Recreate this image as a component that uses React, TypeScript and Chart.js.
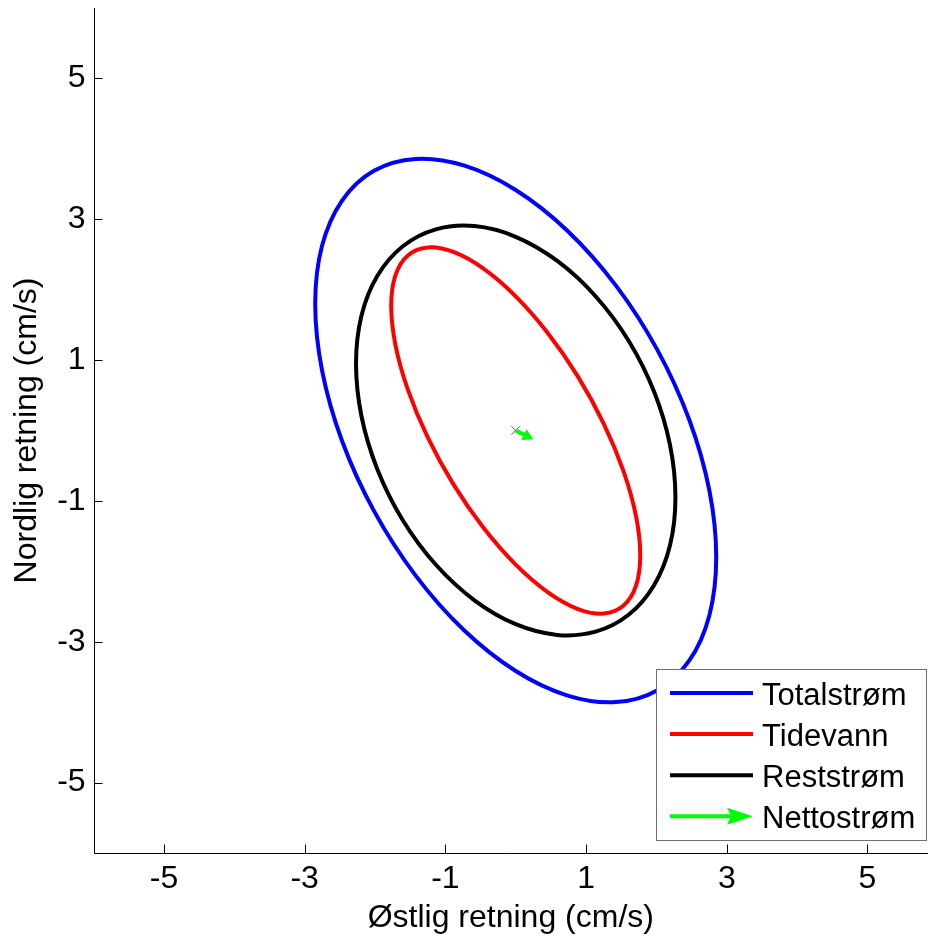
import { useEffect, useRef } from "react";
import { Chart, registerables } from "chart.js";

Chart.register(...registerables);

// ---- data ----
const X_TICKS = [-5, -3, -1, 1, 3, 5];
const Y_TICKS = [-5, -3, -1, 1, 3, 5];
const X_RANGE = [-6, 5.86];
const Y_RANGE = [-6, 6];
const X_TITLE = "Østlig retning (cm/s)";
const Y_TITLE = "Nordlig retning (cm/s)";
const LEGEND_LABELS = ["Totalstrøm", "Tidevann", "Reststrøm", "Nettostrøm"];

// Totalstrøm ellipse (x, y) points, read around the curve
const TOTAL: [number, number][] = [
  [2.85, -1.8], [2.753, -2.622], [2.468, -3.266], [2.015, -3.688], [1.425, -3.857], [0.738, -3.764],
  [0, -3.415], [-0.738, -2.833], [-1.425, -2.057], [-2.015, -1.142], [-2.468, -0.149], [-2.753, 0.855],
  [-2.85, 1.8], [-2.753, 2.622], [-2.468, 3.266], [-2.015, 3.688], [-1.425, 3.857], [-0.738, 3.764],
  [0, 3.415], [0.738, 2.833], [1.425, 2.057], [2.015, 1.142], [2.468, 0.149], [2.753, -0.855],
];

// Tidevann ellipse
const TIDE: [number, number][] = [
  [1.77, -1.77], [1.71, -2.203], [1.533, -2.485], [1.252, -2.599], [0.885, -2.535], [0.458, -2.298],
  [0, -1.905], [-0.458, -1.382], [-0.885, -0.765], [-1.252, -0.095], [-1.533, 0.58], [-1.71, 1.217],
  [-1.77, 1.77], [-1.71, 2.203], [-1.533, 2.485], [-1.252, 2.599], [-0.885, 2.535], [-0.458, 2.298],
  [0, 1.905], [0.458, 1.382], [0.885, 0.765], [1.252, 0.095], [1.533, -0.58], [1.71, -1.217],
];

// Reststrøm ellipse
const RESID: [number, number][] = [
  [2.27, -0.95], [2.193, -1.63], [1.966, -2.198], [1.605, -2.617], [1.135, -2.857], [0.587, -2.903],
  [0, -2.751], [-0.587, -2.411], [-1.135, -1.907], [-1.605, -1.274], [-1.966, -0.553], [-2.193, 0.206],
  [-2.27, 0.95], [-2.193, 1.63], [-1.966, 2.198], [-1.605, 2.617], [-1.135, 2.857], [-0.587, 2.903],
  [0, 2.751], [0.587, 2.411], [1.135, 1.907], [1.605, 1.274], [1.966, 0.553], [2.193, -0.206],
];

// Nettostrøm vector (from origin)
const ORIGIN: [number, number] = [0, 0];
const NET: [number, number] = [0.16, -0.08];

// ---- styles ----
const FONT = '"Liberation Sans", Arial, Helvetica, sans-serif';
const COLORS = ["#0000ff", "#ff0000", "#000000", "#00ff00"];
const HIDDEN = "rgba(0,0,0,0)";

function closedLoop(pts: [number, number][]) {
  const n = pts.length;
  const seq = [pts[n - 1], ...pts, pts[0], pts[1]];
  return seq.map(([x, y]) => ({ x, y }));
}

function ellipseDataset(label: string, pts: [number, number][], color: string, order: number) {
  const data = closedLoop(pts);
  const last = data.length - 1;
  return {
    label,
    data,
    showLine: true,
    borderColor: color,
    borderWidth: 4,
    pointRadius: 0,
    tension: 0.34,
    fill: false,
    order,
    segment: {
      borderColor: (ctx: any) =>
        ctx.p0DataIndex === 0 || ctx.p1DataIndex === last ? HIDDEN : undefined,
    },
  };
}

const overlayPlugin = {
  id: "overlay",
  afterDraw(chart: any) {
    const { ctx, chartArea } = chart;
    const xs = chart.scales.x;
    const ys = chart.scales.y;
    ctx.save();
    // axes lines
    ctx.strokeStyle = "#000";
    ctx.lineWidth = 1;
    ctx.beginPath();
    const left = Math.round(chartArea.left) + 0.5;
    const bottom = Math.round(chartArea.bottom) + 0.5;
    ctx.moveTo(left, chartArea.top);
    ctx.lineTo(left, bottom);
    ctx.lineTo(chart.width, bottom);
    ctx.stroke();
    // inward tick marks
    ctx.beginPath();
    X_TICKS.forEach((v) => {
      const px = Math.round(xs.getPixelForValue(v)) + 0.5;
      ctx.moveTo(px, bottom);
      ctx.lineTo(px, bottom - 9);
    });
    Y_TICKS.forEach((v) => {
      const py = Math.round(ys.getPixelForValue(v)) + 0.5;
      ctx.moveTo(left, py);
      ctx.lineTo(left + 8, py);
    });
    ctx.stroke();

    // legend
    const bx = 656.5, by = 669.5, bw = 270, bh = 171;
    ctx.fillStyle = "#ffffff";
    ctx.fillRect(bx, by, bw, bh);
    ctx.strokeStyle = "#6e6e6e";
    ctx.lineWidth = 1;
    ctx.strokeRect(bx, by, bw, bh);
    ctx.font = `31px ${FONT}`;
    ctx.textBaseline = "alphabetic";
    ctx.textAlign = "left";
    LEGEND_LABELS.forEach((label, i) => {
      const y = 693 + i * 41.1;
      ctx.strokeStyle = COLORS[i];
      ctx.fillStyle = COLORS[i];
      ctx.lineWidth = 4;
      ctx.beginPath();
      if (i === 3) {
        ctx.moveTo(670, y);
        ctx.lineTo(732, y);
        ctx.stroke();
        ctx.beginPath();
        ctx.moveTo(753, y);
        ctx.lineTo(727, y - 8.5);
        ctx.lineTo(731, y);
        ctx.lineTo(727, y + 8.5);
        ctx.closePath();
        ctx.fill();
      } else {
        ctx.moveTo(670, y);
        ctx.lineTo(753, y);
        ctx.stroke();
      }
      ctx.fillStyle = "#000";
      ctx.fillText(label, 762, y + 12);
    });
    ctx.restore();
  },
};

export default function App() {
  const ref = useRef<HTMLCanvasElement | null>(null);

  useEffect(() => {
    if (!ref.current) return;
    const rot = 90 + (Math.atan2(-NET[1], NET[0]) * 180) / Math.PI;
    const chart = new Chart(ref.current, {
      type: "scatter",
      data: {
        datasets: [
          {
            label: LEGEND_LABELS[3],
            data: [
              { x: ORIGIN[0], y: ORIGIN[1] },
              { x: NET[0], y: NET[1] },
            ],
            showLine: true,
            borderColor: COLORS[3],
            backgroundColor: COLORS[3],
            borderWidth: 4,
            pointRadius: [0, 3],
            pointStyle: "triangle",
            pointRotation: [0, rot],
            pointBackgroundColor: COLORS[3],
            pointBorderColor: COLORS[3],
            order: 0,
          } as any,
          {
            label: "origin",
            data: [{ x: ORIGIN[0], y: ORIGIN[1] }],
            showLine: false,
            pointStyle: "crossRot",
            pointRadius: 6,
            pointBorderColor: "#555555",
            pointBorderWidth: 1,
            order: 1,
          } as any,
          ellipseDataset(LEGEND_LABELS[2], RESID, COLORS[2], 2) as any,
          ellipseDataset(LEGEND_LABELS[1], TIDE, COLORS[1], 3) as any,
          ellipseDataset(LEGEND_LABELS[0], TOTAL, COLORS[0], 4) as any,
        ],
      },
      options: {
        animation: false,
        responsive: false,
        devicePixelRatio: 1,
        events: [],
        layout: { padding: { top: 8, right: 0, left: 0, bottom: 0 }, autoPadding: false },
        plugins: {
          legend: { display: false },
          tooltip: { enabled: false },
        },
        scales: {
          x: {
            type: "linear",
            bounds: "data",
            min: X_RANGE[0],
            max: X_RANGE[1],
            grid: { display: false, drawTicks: false },
            border: { display: false },
            afterBuildTicks: (s: any) => {
              s.ticks = X_TICKS.map((v) => ({ value: v }));
            },
            afterFit: (s: any) => {
              s.height = 85;
              s.paddingLeft = 0;
              s.paddingRight = 0;
              s.paddingTop = 0;
              s.paddingBottom = 0;
            },
            ticks: {
              color: "#000",
              padding: 7,
              font: { family: FONT, size: 32 },
              callback: (v: any) => String(v),
            },
            title: {
              display: true,
              text: X_TITLE,
              color: "#000",
              font: { family: FONT, size: 32, lineHeight: 1 },
              padding: { top: 0, bottom: 4 },
            },
          },
          y: {
            type: "linear",
            bounds: "data",
            min: Y_RANGE[0],
            max: Y_RANGE[1],
            grid: { display: false, drawTicks: false },
            border: { display: false },
            afterBuildTicks: (s: any) => {
              s.ticks = Y_TICKS.map((v) => ({ value: v }));
            },
            afterFit: (s: any) => {
              s.width = 93.6;
              s.paddingLeft = 0;
              s.paddingRight = 0;
              s.paddingTop = 0;
              s.paddingBottom = 0;
            },
            ticks: {
              color: "#000",
              padding: 8,
              font: { family: FONT, size: 32 },
              callback: (v: any) => String(v),
            },
            title: {
              display: true,
              text: Y_TITLE,
              color: "#000",
              font: { family: FONT, size: 32, lineHeight: 1 },
              padding: { top: 11, bottom: 0 },
            },
          },
        },
      },
      plugins: [overlayPlugin],
    });
    return () => chart.destroy();
  }, []);

  return (
    <div style={{ position: "absolute", left: 0, top: 0, width: 928, height: 938, background: "#fff" }}>
      <canvas ref={ref} width={928} height={938} style={{ display: "block" }} />
    </div>
  );
}
